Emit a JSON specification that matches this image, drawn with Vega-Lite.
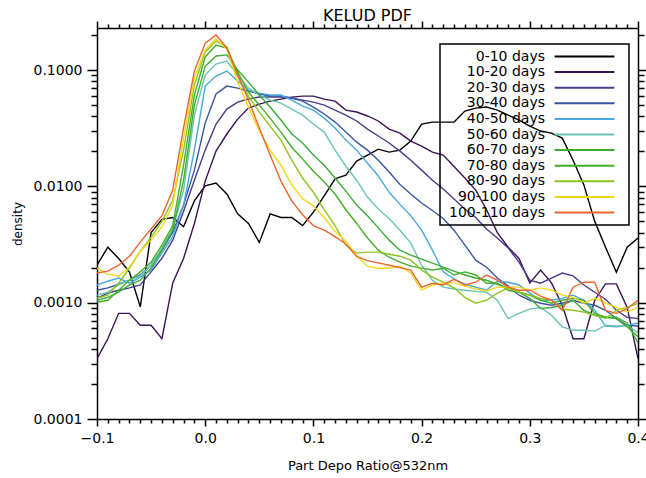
{
"$schema":"https://vega.github.io/schema/vega-lite/v6.json",
"width":541,"height":391,
"autosize":{"type":"none"},
"padding":{"left":97,"top":28,"right":8,"bottom":59},
"background":"white",
"config":{"view":{"stroke":null},"font":"DejaVu Sans",
"axis":{"grid":false,"domainColor":"#000","domainWidth":1.5,"tickColor":"#000","tickWidth":1.5,"labelColor":"#000","labelFont":"DejaVu Sans","labelFontSize":14,"titleFont":"DejaVu Sans","titleFontSize":13,"titleFontWeight":"normal","titleColor":"#000","labelFlush":false,"labelOverlap":false}},
"title":{"text":"KELUD PDF","font":"DejaVu Sans","fontSize":16,"fontWeight":"normal","color":"#000","anchor":"middle","baseline":"alphabetic","offset":0,"dy":17},
"data":{"values":[
{"p":"0-10 days","x":-0.1,"y":0.0021},{"p":"0-10 days","x":-0.09,"y":0.0030},{"p":"0-10 days","x":-0.08,"y":0.0024},{"p":"0-10 days","x":-0.07,"y":0.00183},{"p":"0-10 days","x":-0.06,"y":0.00092},{"p":"0-10 days","x":-0.05,"y":0.0040},{"p":"0-10 days","x":-0.04,"y":0.0052},{"p":"0-10 days","x":-0.03,"y":0.0054},{"p":"0-10 days","x":-0.02,"y":0.0045},{"p":"0-10 days","x":-0.01,"y":0.0075},{"p":"0-10 days","x":0,"y":0.0101},{"p":"0-10 days","x":0.01,"y":0.0107},{"p":"0-10 days","x":0.02,"y":0.0086},{"p":"0-10 days","x":0.03,"y":0.0058},{"p":"0-10 days","x":0.04,"y":0.0048},{"p":"0-10 days","x":0.05,"y":0.0033},{"p":"0-10 days","x":0.06,"y":0.0058},{"p":"0-10 days","x":0.07,"y":0.0054},{"p":"0-10 days","x":0.08,"y":0.0054},{"p":"0-10 days","x":0.09,"y":0.0046},{"p":"0-10 days","x":0.1,"y":0.0060},{"p":"0-10 days","x":0.11,"y":0.0083},{"p":"0-10 days","x":0.12,"y":0.0116},{"p":"0-10 days","x":0.13,"y":0.0125},{"p":"0-10 days","x":0.14,"y":0.0165},{"p":"0-10 days","x":0.15,"y":0.0186},{"p":"0-10 days","x":0.16,"y":0.0209},{"p":"0-10 days","x":0.17,"y":0.0197},{"p":"0-10 days","x":0.18,"y":0.0205},{"p":"0-10 days","x":0.19,"y":0.0245},{"p":"0-10 days","x":0.2,"y":0.0343},{"p":"0-10 days","x":0.21,"y":0.0357},{"p":"0-10 days","x":0.22,"y":0.0357},{"p":"0-10 days","x":0.23,"y":0.0357},{"p":"0-10 days","x":0.24,"y":0.0444},{"p":"0-10 days","x":0.25,"y":0.0471},{"p":"0-10 days","x":0.26,"y":0.0481},{"p":"0-10 days","x":0.27,"y":0.0453},{"p":"0-10 days","x":0.28,"y":0.0410},{"p":"0-10 days","x":0.29,"y":0.0372},{"p":"0-10 days","x":0.3,"y":0.0330},{"p":"0-10 days","x":0.31,"y":0.0299},{"p":"0-10 days","x":0.32,"y":0.0287},{"p":"0-10 days","x":0.33,"y":0.0260},{"p":"0-10 days","x":0.34,"y":0.0168},{"p":"0-10 days","x":0.35,"y":0.0103},{"p":"0-10 days","x":0.36,"y":0.0050},{"p":"0-10 days","x":0.37,"y":0.0030},{"p":"0-10 days","x":0.38,"y":0.00183},{"p":"0-10 days","x":0.39,"y":0.0030},{"p":"0-10 days","x":0.4,"y":0.0036},
{"p":"10-20 days","x":-0.1,"y":0.00033},{"p":"10-20 days","x":-0.09,"y":0.00049},{"p":"10-20 days","x":-0.08,"y":0.00081},{"p":"10-20 days","x":-0.07,"y":0.00081},{"p":"10-20 days","x":-0.06,"y":0.00064},{"p":"10-20 days","x":-0.05,"y":0.00064},{"p":"10-20 days","x":-0.04,"y":0.00049},{"p":"10-20 days","x":-0.03,"y":0.00148},{"p":"10-20 days","x":-0.02,"y":0.0024},{"p":"10-20 days","x":-0.01,"y":0.0048},{"p":"10-20 days","x":0,"y":0.0111},{"p":"10-20 days","x":0.01,"y":0.0201},{"p":"10-20 days","x":0.02,"y":0.0282},{"p":"10-20 days","x":0.03,"y":0.0379},{"p":"10-20 days","x":0.04,"y":0.0471},{"p":"10-20 days","x":0.05,"y":0.0510},{"p":"10-20 days","x":0.06,"y":0.0541},{"p":"10-20 days","x":0.07,"y":0.0563},{"p":"10-20 days","x":0.08,"y":0.0585},{"p":"10-20 days","x":0.09,"y":0.0597},{"p":"10-20 days","x":0.1,"y":0.0597},{"p":"10-20 days","x":0.11,"y":0.0563},{"p":"10-20 days","x":0.12,"y":0.0541},{"p":"10-20 days","x":0.13,"y":0.0453},{"p":"10-20 days","x":0.14,"y":0.0436},{"p":"10-20 days","x":0.15,"y":0.0403},{"p":"10-20 days","x":0.16,"y":0.0365},{"p":"10-20 days","x":0.17,"y":0.0311},{"p":"10-20 days","x":0.18,"y":0.0287},{"p":"10-20 days","x":0.19,"y":0.0245},{"p":"10-20 days","x":0.2,"y":0.0222},{"p":"10-20 days","x":0.21,"y":0.0197},{"p":"10-20 days","x":0.22,"y":0.0186},{"p":"10-20 days","x":0.23,"y":0.0148},{"p":"10-20 days","x":0.24,"y":0.0118},{"p":"10-20 days","x":0.25,"y":0.0093},{"p":"10-20 days","x":0.26,"y":0.0063},{"p":"10-20 days","x":0.27,"y":0.0040},{"p":"10-20 days","x":0.28,"y":0.0030},{"p":"10-20 days","x":0.29,"y":0.0024},{"p":"10-20 days","x":0.3,"y":0.00148},{"p":"10-20 days","x":0.31,"y":0.00191},{"p":"10-20 days","x":0.32,"y":0.00148},{"p":"10-20 days","x":0.33,"y":0.00095},{"p":"10-20 days","x":0.34,"y":0.00049},{"p":"10-20 days","x":0.35,"y":0.00049},{"p":"10-20 days","x":0.36,"y":0.00105},{"p":"10-20 days","x":0.37,"y":0.00145},{"p":"10-20 days","x":0.38,"y":0.00145},{"p":"10-20 days","x":0.39,"y":0.00091},{"p":"10-20 days","x":0.4,"y":0.00033},
{"p":"20-30 days","x":-0.1,"y":0.00109},{"p":"20-30 days","x":-0.09,"y":0.00121},{"p":"20-30 days","x":-0.08,"y":0.00128},{"p":"20-30 days","x":-0.07,"y":0.00134},{"p":"20-30 days","x":-0.06,"y":0.00142},{"p":"20-30 days","x":-0.05,"y":0.00184},{"p":"20-30 days","x":-0.04,"y":0.00241},{"p":"20-30 days","x":-0.03,"y":0.00345},{"p":"20-30 days","x":-0.02,"y":0.0061},{"p":"20-30 days","x":-0.01,"y":0.0113},{"p":"20-30 days","x":0,"y":0.0205},{"p":"20-30 days","x":0.01,"y":0.0344},{"p":"20-30 days","x":0.02,"y":0.0462},{"p":"20-30 days","x":0.03,"y":0.0530},{"p":"20-30 days","x":0.04,"y":0.0564},{"p":"20-30 days","x":0.05,"y":0.0586},{"p":"20-30 days","x":0.06,"y":0.0586},{"p":"20-30 days","x":0.07,"y":0.0586},{"p":"20-30 days","x":0.08,"y":0.0575},{"p":"20-30 days","x":0.09,"y":0.0552},{"p":"20-30 days","x":0.1,"y":0.0530},{"p":"20-30 days","x":0.11,"y":0.0500},{"p":"20-30 days","x":0.12,"y":0.0453},{"p":"20-30 days","x":0.13,"y":0.0410},{"p":"20-30 days","x":0.14,"y":0.0365},{"p":"20-30 days","x":0.15,"y":0.0311},{"p":"20-30 days","x":0.16,"y":0.0271},{"p":"20-30 days","x":0.17,"y":0.0236},{"p":"20-30 days","x":0.18,"y":0.0201},{"p":"20-30 days","x":0.19,"y":0.0168},{"p":"20-30 days","x":0.2,"y":0.0138},{"p":"20-30 days","x":0.21,"y":0.0113},{"p":"20-30 days","x":0.22,"y":0.0095},{"p":"20-30 days","x":0.23,"y":0.0078},{"p":"20-30 days","x":0.24,"y":0.0064},{"p":"20-30 days","x":0.25,"y":0.0054},{"p":"20-30 days","x":0.26,"y":0.0043},{"p":"20-30 days","x":0.27,"y":0.0036},{"p":"20-30 days","x":0.28,"y":0.00295},{"p":"20-30 days","x":0.29,"y":0.00223},{"p":"20-30 days","x":0.3,"y":0.00156},{"p":"20-30 days","x":0.31,"y":0.00147},{"p":"20-30 days","x":0.32,"y":0.00163},{"p":"20-30 days","x":0.33,"y":0.0018},{"p":"20-30 days","x":0.34,"y":0.0017},{"p":"20-30 days","x":0.35,"y":0.00142},{"p":"20-30 days","x":0.36,"y":0.00123},{"p":"20-30 days","x":0.37,"y":0.00107},{"p":"20-30 days","x":0.38,"y":0.00086},{"p":"20-30 days","x":0.39,"y":0.00075},{"p":"20-30 days","x":0.4,"y":0.00073},
{"p":"30-40 days","x":-0.1,"y":0.00128},{"p":"30-40 days","x":-0.09,"y":0.00134},{"p":"30-40 days","x":-0.08,"y":0.00144},{"p":"30-40 days","x":-0.07,"y":0.00156},{"p":"30-40 days","x":-0.06,"y":0.00173},{"p":"30-40 days","x":-0.05,"y":0.0021},{"p":"30-40 days","x":-0.04,"y":0.00283},{"p":"30-40 days","x":-0.03,"y":0.00404},{"p":"30-40 days","x":-0.02,"y":0.0069},{"p":"30-40 days","x":-0.01,"y":0.0138},{"p":"30-40 days","x":0,"y":0.035},{"p":"30-40 days","x":0.01,"y":0.0622},{"p":"30-40 days","x":0.02,"y":0.0728},{"p":"30-40 days","x":0.03,"y":0.070},{"p":"30-40 days","x":0.04,"y":0.066},{"p":"30-40 days","x":0.05,"y":0.0622},{"p":"30-40 days","x":0.06,"y":0.0598},{"p":"30-40 days","x":0.07,"y":0.0598},{"p":"30-40 days","x":0.08,"y":0.0575},{"p":"30-40 days","x":0.09,"y":0.0541},{"p":"30-40 days","x":0.1,"y":0.0481},{"p":"30-40 days","x":0.11,"y":0.0419},{"p":"30-40 days","x":0.12,"y":0.0357},{"p":"30-40 days","x":0.13,"y":0.0293},{"p":"30-40 days","x":0.14,"y":0.024},{"p":"30-40 days","x":0.15,"y":0.0205},{"p":"30-40 days","x":0.16,"y":0.0168},{"p":"30-40 days","x":0.17,"y":0.0133},{"p":"30-40 days","x":0.18,"y":0.0104},{"p":"30-40 days","x":0.19,"y":0.0086},{"p":"30-40 days","x":0.2,"y":0.0072},{"p":"30-40 days","x":0.21,"y":0.0062},{"p":"30-40 days","x":0.22,"y":0.0053},{"p":"30-40 days","x":0.23,"y":0.0042},{"p":"30-40 days","x":0.24,"y":0.00313},{"p":"30-40 days","x":0.25,"y":0.00232},{"p":"30-40 days","x":0.26,"y":0.00202},{"p":"30-40 days","x":0.27,"y":0.00163},{"p":"30-40 days","x":0.28,"y":0.00139},{"p":"30-40 days","x":0.29,"y":0.00116},{"p":"30-40 days","x":0.3,"y":0.00105},{"p":"30-40 days","x":0.31,"y":0.00099},{"p":"30-40 days","x":0.32,"y":0.00095},{"p":"30-40 days","x":0.33,"y":0.00099},{"p":"30-40 days","x":0.34,"y":0.00105},{"p":"30-40 days","x":0.35,"y":0.00099},{"p":"30-40 days","x":0.36,"y":0.00095},{"p":"30-40 days","x":0.37,"y":0.00086},{"p":"30-40 days","x":0.38,"y":0.00073},{"p":"30-40 days","x":0.39,"y":0.00064},{"p":"30-40 days","x":0.4,"y":0.00063},
{"p":"40-50 days","x":-0.1,"y":0.00142},{"p":"40-50 days","x":-0.09,"y":0.00153},{"p":"40-50 days","x":-0.08,"y":0.00163},{"p":"40-50 days","x":-0.07,"y":0.00147},{"p":"40-50 days","x":-0.06,"y":0.00166},{"p":"40-50 days","x":-0.05,"y":0.00191},{"p":"40-50 days","x":-0.04,"y":0.00267},{"p":"40-50 days","x":-0.03,"y":0.00372},{"p":"40-50 days","x":-0.02,"y":0.0069},{"p":"40-50 days","x":-0.01,"y":0.0205},{"p":"40-50 days","x":0,"y":0.0728},{"p":"40-50 days","x":0.01,"y":0.0888},{"p":"40-50 days","x":0.02,"y":0.098},{"p":"40-50 days","x":0.03,"y":0.0804},{"p":"40-50 days","x":0.04,"y":0.0673},{"p":"40-50 days","x":0.05,"y":0.0634},{"p":"40-50 days","x":0.06,"y":0.061},{"p":"40-50 days","x":0.07,"y":0.061},{"p":"40-50 days","x":0.08,"y":0.0552},{"p":"40-50 days","x":0.09,"y":0.049},{"p":"40-50 days","x":0.1,"y":0.0453},{"p":"40-50 days","x":0.11,"y":0.0386},{"p":"40-50 days","x":0.12,"y":0.0317},{"p":"40-50 days","x":0.13,"y":0.025},{"p":"40-50 days","x":0.14,"y":0.0205},{"p":"40-50 days","x":0.15,"y":0.0158},{"p":"40-50 days","x":0.16,"y":0.0123},{"p":"40-50 days","x":0.17,"y":0.0089},{"p":"40-50 days","x":0.18,"y":0.007},{"p":"40-50 days","x":0.19,"y":0.0056},{"p":"40-50 days","x":0.2,"y":0.0042},{"p":"40-50 days","x":0.21,"y":0.00283},{"p":"40-50 days","x":0.22,"y":0.00184},{"p":"40-50 days","x":0.23,"y":0.0016},{"p":"40-50 days","x":0.24,"y":0.00144},{"p":"40-50 days","x":0.25,"y":0.00136},{"p":"40-50 days","x":0.26,"y":0.00128},{"p":"40-50 days","x":0.27,"y":0.00153},{"p":"40-50 days","x":0.28,"y":0.0015},{"p":"40-50 days","x":0.29,"y":0.00142},{"p":"40-50 days","x":0.3,"y":0.00121},{"p":"40-50 days","x":0.31,"y":0.00105},{"p":"40-50 days","x":0.32,"y":0.00105},{"p":"40-50 days","x":0.33,"y":0.00109},{"p":"40-50 days","x":0.34,"y":0.00116},{"p":"40-50 days","x":0.35,"y":0.00105},{"p":"40-50 days","x":0.36,"y":0.00086},{"p":"40-50 days","x":0.37,"y":0.00063},{"p":"40-50 days","x":0.38,"y":0.00062},{"p":"40-50 days","x":0.39,"y":0.00064},{"p":"40-50 days","x":0.4,"y":0.00067},
{"p":"50-60 days","x":-0.1,"y":0.00116},{"p":"50-60 days","x":-0.09,"y":0.00123},{"p":"50-60 days","x":-0.08,"y":0.00142},{"p":"50-60 days","x":-0.07,"y":0.00156},{"p":"50-60 days","x":-0.06,"y":0.0017},{"p":"50-60 days","x":-0.05,"y":0.0021},{"p":"50-60 days","x":-0.04,"y":0.00295},{"p":"50-60 days","x":-0.03,"y":0.00433},{"p":"50-60 days","x":-0.02,"y":0.0093},{"p":"50-60 days","x":-0.01,"y":0.041},{"p":"50-60 days","x":0,"y":0.0906},{"p":"50-60 days","x":0.01,"y":0.1127},{"p":"50-60 days","x":0.02,"y":0.1196},{"p":"50-60 days","x":0.03,"y":0.0906},{"p":"50-60 days","x":0.04,"y":0.07},{"p":"50-60 days","x":0.05,"y":0.061},{"p":"50-60 days","x":0.06,"y":0.0552},{"p":"50-60 days","x":0.07,"y":0.052},{"p":"50-60 days","x":0.08,"y":0.0462},{"p":"50-60 days","x":0.09,"y":0.041},{"p":"50-60 days","x":0.1,"y":0.0344},{"p":"50-60 days","x":0.11,"y":0.0293},{"p":"50-60 days","x":0.12,"y":0.0205},{"p":"50-60 days","x":0.13,"y":0.0149},{"p":"50-60 days","x":0.14,"y":0.0113},{"p":"50-60 days","x":0.15,"y":0.0081},{"p":"50-60 days","x":0.16,"y":0.0064},{"p":"50-60 days","x":0.17,"y":0.0053},{"p":"50-60 days","x":0.18,"y":0.0042},{"p":"50-60 days","x":0.19,"y":0.00325},{"p":"50-60 days","x":0.2,"y":0.0021},{"p":"50-60 days","x":0.21,"y":0.00156},{"p":"50-60 days","x":0.22,"y":0.00136},{"p":"50-60 days","x":0.23,"y":0.00131},{"p":"50-60 days","x":0.24,"y":0.00128},{"p":"50-60 days","x":0.25,"y":0.00125},{"p":"50-60 days","x":0.26,"y":0.00123},{"p":"50-60 days","x":0.27,"y":0.00105},{"p":"50-60 days","x":0.28,"y":0.00073},{"p":"50-60 days","x":0.29,"y":0.00081},{"p":"50-60 days","x":0.3,"y":0.00088},{"p":"50-60 days","x":0.31,"y":0.00091},{"p":"50-60 days","x":0.32,"y":0.00078},{"p":"50-60 days","x":0.33,"y":0.00062},{"p":"50-60 days","x":0.34,"y":0.00058},{"p":"50-60 days","x":0.35,"y":0.00058},{"p":"50-60 days","x":0.36,"y":0.00057},{"p":"50-60 days","x":0.37,"y":0.00064},{"p":"50-60 days","x":0.38,"y":0.00063},{"p":"50-60 days","x":0.39,"y":0.00064},{"p":"50-60 days","x":0.4,"y":0.00055},
{"p":"60-70 days","x":-0.1,"y":0.00105},{"p":"60-70 days","x":-0.09,"y":0.00111},{"p":"60-70 days","x":-0.08,"y":0.00123},{"p":"60-70 days","x":-0.07,"y":0.00142},{"p":"60-70 days","x":-0.06,"y":0.00156},{"p":"60-70 days","x":-0.05,"y":0.00198},{"p":"60-70 days","x":-0.04,"y":0.00283},{"p":"60-70 days","x":-0.03,"y":0.0042},{"p":"60-70 days","x":-0.02,"y":0.0113},{"p":"60-70 days","x":-0.01,"y":0.05},{"p":"60-70 days","x":0,"y":0.1078},{"p":"60-70 days","x":0.01,"y":0.1323},{"p":"60-70 days","x":0.02,"y":0.135},{"p":"60-70 days","x":0.03,"y":0.1},{"p":"60-70 days","x":0.04,"y":0.0788},{"p":"60-70 days","x":0.05,"y":0.061},{"p":"60-70 days","x":0.06,"y":0.0481},{"p":"60-70 days","x":0.07,"y":0.0372},{"p":"60-70 days","x":0.08,"y":0.0282},{"p":"60-70 days","x":0.09,"y":0.0236},{"p":"60-70 days","x":0.1,"y":0.0186},{"p":"60-70 days","x":0.11,"y":0.0152},{"p":"60-70 days","x":0.12,"y":0.0118},{"p":"60-70 days","x":0.13,"y":0.0091},{"p":"60-70 days","x":0.14,"y":0.0069},{"p":"60-70 days","x":0.15,"y":0.0056},{"p":"60-70 days","x":0.16,"y":0.0044},{"p":"60-70 days","x":0.17,"y":0.00345},{"p":"60-70 days","x":0.18,"y":0.00283},{"p":"60-70 days","x":0.19,"y":0.00256},{"p":"60-70 days","x":0.2,"y":0.00237},{"p":"60-70 days","x":0.21,"y":0.00219},{"p":"60-70 days","x":0.22,"y":0.00202},{"p":"60-70 days","x":0.23,"y":0.00187},{"p":"60-70 days","x":0.24,"y":0.00173},{"p":"60-70 days","x":0.25,"y":0.00163},{"p":"60-70 days","x":0.26,"y":0.00156},{"p":"60-70 days","x":0.27,"y":0.00144},{"p":"60-70 days","x":0.28,"y":0.00134},{"p":"60-70 days","x":0.29,"y":0.00123},{"p":"60-70 days","x":0.3,"y":0.00109},{"p":"60-70 days","x":0.31,"y":0.00089},{"p":"60-70 days","x":0.32,"y":0.00091},{"p":"60-70 days","x":0.33,"y":0.00095},{"p":"60-70 days","x":0.34,"y":0.00105},{"p":"60-70 days","x":0.35,"y":0.00086},{"p":"60-70 days","x":0.36,"y":0.00078},{"p":"60-70 days","x":0.37,"y":0.00075},{"p":"60-70 days","x":0.38,"y":0.00073},{"p":"60-70 days","x":0.39,"y":0.00062},{"p":"60-70 days","x":0.4,"y":0.00051},
{"p":"70-80 days","x":-0.1,"y":0.00101},{"p":"70-80 days","x":-0.09,"y":0.00105},{"p":"70-80 days","x":-0.08,"y":0.00128},{"p":"70-80 days","x":-0.07,"y":0.00156},{"p":"70-80 days","x":-0.06,"y":0.00184},{"p":"70-80 days","x":-0.05,"y":0.00223},{"p":"70-80 days","x":-0.04,"y":0.00313},{"p":"70-80 days","x":-0.03,"y":0.0046},{"p":"70-80 days","x":-0.02,"y":0.0152},{"p":"70-80 days","x":-0.01,"y":0.061},{"p":"70-80 days","x":0,"y":0.1297},{"p":"70-80 days","x":0.01,"y":0.164},{"p":"70-80 days","x":0.02,"y":0.1545},{"p":"70-80 days","x":0.03,"y":0.0961},{"p":"70-80 days","x":0.04,"y":0.0647},{"p":"70-80 days","x":0.05,"y":0.05},{"p":"70-80 days","x":0.06,"y":0.0386},{"p":"70-80 days","x":0.07,"y":0.0293},{"p":"70-80 days","x":0.08,"y":0.0217},{"p":"70-80 days","x":0.09,"y":0.0172},{"p":"70-80 days","x":0.1,"y":0.0135},{"p":"70-80 days","x":0.11,"y":0.0109},{"p":"70-80 days","x":0.12,"y":0.0086},{"p":"70-80 days","x":0.13,"y":0.0063},{"p":"70-80 days","x":0.14,"y":0.0048},{"p":"70-80 days","x":0.15,"y":0.0036},{"p":"70-80 days","x":0.16,"y":0.00283},{"p":"70-80 days","x":0.17,"y":0.00246},{"p":"70-80 days","x":0.18,"y":0.00223},{"p":"70-80 days","x":0.19,"y":0.00206},{"p":"70-80 days","x":0.2,"y":0.00198},{"p":"70-80 days","x":0.21,"y":0.00191},{"p":"70-80 days","x":0.22,"y":0.00198},{"p":"70-80 days","x":0.23,"y":0.00173},{"p":"70-80 days","x":0.24,"y":0.00184},{"p":"70-80 days","x":0.25,"y":0.00173},{"p":"70-80 days","x":0.26,"y":0.00147},{"p":"70-80 days","x":0.27,"y":0.00147},{"p":"70-80 days","x":0.28,"y":0.00128},{"p":"70-80 days","x":0.29,"y":0.00123},{"p":"70-80 days","x":0.3,"y":0.00116},{"p":"70-80 days","x":0.31,"y":0.00105},{"p":"70-80 days","x":0.32,"y":0.00099},{"p":"70-80 days","x":0.33,"y":0.00105},{"p":"70-80 days","x":0.34,"y":0.00109},{"p":"70-80 days","x":0.35,"y":0.00105},{"p":"70-80 days","x":0.36,"y":0.00081},{"p":"70-80 days","x":0.37,"y":0.00075},{"p":"70-80 days","x":0.38,"y":0.00075},{"p":"70-80 days","x":0.39,"y":0.00067},{"p":"70-80 days","x":0.4,"y":0.00045},
{"p":"80-90 days","x":-0.1,"y":0.00109},{"p":"80-90 days","x":-0.09,"y":0.00116},{"p":"80-90 days","x":-0.08,"y":0.00147},{"p":"80-90 days","x":-0.07,"y":0.00198},{"p":"80-90 days","x":-0.06,"y":0.00277},{"p":"80-90 days","x":-0.05,"y":0.00365},{"p":"80-90 days","x":-0.04,"y":0.0050},{"p":"80-90 days","x":-0.03,"y":0.0076},{"p":"80-90 days","x":-0.02,"y":0.0205},{"p":"80-90 days","x":-0.01,"y":0.0743},{"p":"80-90 days","x":0,"y":0.1432},{"p":"80-90 days","x":0.01,"y":0.1774},{"p":"80-90 days","x":0.02,"y":0.1576},{"p":"80-90 days","x":0.03,"y":0.0888},{"p":"80-90 days","x":0.04,"y":0.0598},{"p":"80-90 days","x":0.05,"y":0.0435},{"p":"80-90 days","x":0.06,"y":0.033},{"p":"80-90 days","x":0.07,"y":0.025},{"p":"80-90 days","x":0.08,"y":0.0168},{"p":"80-90 days","x":0.09,"y":0.0118},{"p":"80-90 days","x":0.1,"y":0.0089},{"p":"80-90 days","x":0.11,"y":0.0063},{"p":"80-90 days","x":0.12,"y":0.0046},{"p":"80-90 days","x":0.13,"y":0.00313},{"p":"80-90 days","x":0.14,"y":0.00267},{"p":"80-90 days","x":0.15,"y":0.00272},{"p":"80-90 days","x":0.16,"y":0.00272},{"p":"80-90 days","x":0.17,"y":0.00261},{"p":"80-90 days","x":0.18,"y":0.00251},{"p":"80-90 days","x":0.19,"y":0.00232},{"p":"80-90 days","x":0.2,"y":0.00191},{"p":"80-90 days","x":0.21,"y":0.00166},{"p":"80-90 days","x":0.22,"y":0.0015},{"p":"80-90 days","x":0.23,"y":0.00134},{"p":"80-90 days","x":0.24,"y":0.00111},{"p":"80-90 days","x":0.25,"y":0.00099},{"p":"80-90 days","x":0.26,"y":0.00105},{"p":"80-90 days","x":0.27,"y":0.00121},{"p":"80-90 days","x":0.28,"y":0.00134},{"p":"80-90 days","x":0.29,"y":0.00123},{"p":"80-90 days","x":0.3,"y":0.00116},{"p":"80-90 days","x":0.31,"y":0.00109},{"p":"80-90 days","x":0.32,"y":0.00105},{"p":"80-90 days","x":0.33,"y":0.00088},{"p":"80-90 days","x":0.34,"y":0.00086},{"p":"80-90 days","x":0.35,"y":0.00083},{"p":"80-90 days","x":0.36,"y":0.00078},{"p":"80-90 days","x":0.37,"y":0.00073},{"p":"80-90 days","x":0.38,"y":0.00086},{"p":"80-90 days","x":0.39,"y":0.00091},{"p":"80-90 days","x":0.4,"y":0.00099},
{"p":"90-100 days","x":-0.1,"y":0.00198},{"p":"90-100 days","x":-0.09,"y":0.00176},{"p":"90-100 days","x":-0.08,"y":0.00169},{"p":"90-100 days","x":-0.07,"y":0.00203},{"p":"90-100 days","x":-0.06,"y":0.00278},{"p":"90-100 days","x":-0.05,"y":0.00345},{"p":"90-100 days","x":-0.04,"y":0.0045},{"p":"90-100 days","x":-0.03,"y":0.0069},{"p":"90-100 days","x":-0.02,"y":0.026},{"p":"90-100 days","x":-0.01,"y":0.0853},{"p":"90-100 days","x":0,"y":0.149},{"p":"90-100 days","x":0.01,"y":0.185},{"p":"90-100 days","x":0.02,"y":0.152},{"p":"90-100 days","x":0.03,"y":0.0789},{"p":"90-100 days","x":0.04,"y":0.0481},{"p":"90-100 days","x":0.05,"y":0.0299},{"p":"90-100 days","x":0.06,"y":0.0205},{"p":"90-100 days","x":0.07,"y":0.0152},{"p":"90-100 days","x":0.08,"y":0.0103},{"p":"90-100 days","x":0.09,"y":0.0078},{"p":"90-100 days","x":0.1,"y":0.0068},{"p":"90-100 days","x":0.11,"y":0.0054},{"p":"90-100 days","x":0.12,"y":0.0041},{"p":"90-100 days","x":0.13,"y":0.00338},{"p":"90-100 days","x":0.14,"y":0.00251},{"p":"90-100 days","x":0.15,"y":0.00206},{"p":"90-100 days","x":0.16,"y":0.00198},{"p":"90-100 days","x":0.17,"y":0.00198},{"p":"90-100 days","x":0.18,"y":0.00206},{"p":"90-100 days","x":0.19,"y":0.0018},{"p":"90-100 days","x":0.2,"y":0.00128},{"p":"90-100 days","x":0.21,"y":0.00142},{"p":"90-100 days","x":0.22,"y":0.00148},{"p":"90-100 days","x":0.23,"y":0.00148},{"p":"90-100 days","x":0.24,"y":0.00139},{"p":"90-100 days","x":0.25,"y":0.00131},{"p":"90-100 days","x":0.26,"y":0.00126},{"p":"90-100 days","x":0.27,"y":0.00136},{"p":"90-100 days","x":0.28,"y":0.00136},{"p":"90-100 days","x":0.29,"y":0.00136},{"p":"90-100 days","x":0.3,"y":0.00128},{"p":"90-100 days","x":0.31,"y":0.00134},{"p":"90-100 days","x":0.32,"y":0.00128},{"p":"90-100 days","x":0.33,"y":0.00116},{"p":"90-100 days","x":0.34,"y":0.00111},{"p":"90-100 days","x":0.35,"y":0.00099},{"p":"90-100 days","x":0.36,"y":0.00109},{"p":"90-100 days","x":0.37,"y":0.00099},{"p":"90-100 days","x":0.38,"y":0.00091},{"p":"90-100 days","x":0.39,"y":0.00083},{"p":"90-100 days","x":0.4,"y":0.00091},
{"p":"100-110 days","x":-0.1,"y":0.0018},{"p":"100-110 days","x":-0.09,"y":0.00187},{"p":"100-110 days","x":-0.08,"y":0.0021},{"p":"100-110 days","x":-0.07,"y":0.00251},{"p":"100-110 days","x":-0.06,"y":0.00332},{"p":"100-110 days","x":-0.05,"y":0.0043},{"p":"100-110 days","x":-0.04,"y":0.0056},{"p":"100-110 days","x":-0.03,"y":0.0093},{"p":"100-110 days","x":-0.02,"y":0.0318},{"p":"100-110 days","x":-0.01,"y":0.098},{"p":"100-110 days","x":0,"y":0.17},{"p":"100-110 days","x":0.01,"y":0.2},{"p":"100-110 days","x":0.02,"y":0.155},{"p":"100-110 days","x":0.03,"y":0.0906},{"p":"100-110 days","x":0.04,"y":0.0552},{"p":"100-110 days","x":0.05,"y":0.0318},{"p":"100-110 days","x":0.06,"y":0.0186},{"p":"100-110 days","x":0.07,"y":0.0111},{"p":"100-110 days","x":0.08,"y":0.0075},{"p":"100-110 days","x":0.09,"y":0.0057},{"p":"100-110 days","x":0.1,"y":0.0046},{"p":"100-110 days","x":0.11,"y":0.0042},{"p":"100-110 days","x":0.12,"y":0.0037},{"p":"100-110 days","x":0.13,"y":0.0032},{"p":"100-110 days","x":0.14,"y":0.0025},{"p":"100-110 days","x":0.15,"y":0.0023},{"p":"100-110 days","x":0.16,"y":0.0022},{"p":"100-110 days","x":0.17,"y":0.0021},{"p":"100-110 days","x":0.18,"y":0.0020},{"p":"100-110 days","x":0.19,"y":0.00191},{"p":"100-110 days","x":0.2,"y":0.00136},{"p":"100-110 days","x":0.21,"y":0.00147},{"p":"100-110 days","x":0.22,"y":0.00142},{"p":"100-110 days","x":0.23,"y":0.00159},{"p":"100-110 days","x":0.24,"y":0.00142},{"p":"100-110 days","x":0.25,"y":0.0015},{"p":"100-110 days","x":0.26,"y":0.00173},{"p":"100-110 days","x":0.27,"y":0.00156},{"p":"100-110 days","x":0.28,"y":0.00136},{"p":"100-110 days","x":0.29,"y":0.00128},{"p":"100-110 days","x":0.3,"y":0.00128},{"p":"100-110 days","x":0.31,"y":0.00114},{"p":"100-110 days","x":0.32,"y":0.00105},{"p":"100-110 days","x":0.33,"y":0.00086},{"p":"100-110 days","x":0.34,"y":0.00136},{"p":"100-110 days","x":0.35,"y":0.0015},{"p":"100-110 days","x":0.36,"y":0.0015},{"p":"100-110 days","x":0.37,"y":0.00086},{"p":"100-110 days","x":0.38,"y":0.00081},{"p":"100-110 days","x":0.39,"y":0.00089},{"p":"100-110 days","x":0.4,"y":0.00105}
]},
"layer":[
{"mark":{"type":"line","strokeWidth":1.4,"clip":true},
 "encoding":{
  "x":{"field":"x","type":"quantitative","scale":{"domain":[-0.1,0.4],"nice":false,"zero":false},
       "axis":{"orient":"bottom","values":[-0.1,0,0.1,0.2,0.3,0.4],"format":".1f","tickSize":7,"labelPadding":5,"title":"Part Depo Ratio@532nm","titlePadding":14}},
  "y":{"field":"y","type":"quantitative","scale":{"type":"log","domain":[0.0001,0.23],"nice":false},
       "axis":{"orient":"left","values":[0.0001,0.001,0.01,0.1],"format":".4f","tickSize":10,"labelPadding":5,"title":"density","titleFontSize":12,"titlePadding":9}},
  "color":{"field":"p","type":"nominal",
   "scale":{"domain":["0-10 days","10-20 days","20-30 days","30-40 days","40-50 days","50-60 days","60-70 days","70-80 days","80-90 days","90-100 days","100-110 days"],
            "range":["#000000","#3b1355","#483d8b","#3a55a0","#4aa8dd","#6cc4b4","#3aac37","#43b02a","#8dc41e","#f3d81a","#ea6630"]},
   "legend":{"title":null,"orient":"none","legendX":343,"legendY":16,
     "symbolType":"M-4.6,0H5.37","symbolSize":169,"symbolStrokeWidth":2,"symbolDash":[59.8,40],
     "labelFont":"DejaVu Sans","labelFontSize":14,"labelColor":"#000","labelLimit":300,
     "rowPadding":0.6,"padding":5,"strokeColor":"#000",
     "encode":{"labels":{"update":{"x":{"value":100},"align":{"value":"right"}}},
               "symbols":{"update":{"x":{"value":139.5}}},
               "legend":{"update":{"strokeWidth":{"value":1.5}}}}}}
 }},
{"mark":{"type":"line","opacity":0},
 "encoding":{
  "x":{"field":"x","type":"quantitative","scale":{"domain":[-0.1,0.4],"nice":false,"zero":false},
       "axis":{"orient":"bottom","values":[-0.09,-0.08,-0.07,-0.06,-0.05,-0.04,-0.03,-0.02,-0.01,0.01,0.02,0.03,0.04,0.05,0.06,0.07,0.08,0.09,0.11,0.12,0.13,0.14,0.15,0.16,0.17,0.18,0.19,0.21,0.22,0.23,0.24,0.25,0.26,0.27,0.28,0.29,0.31,0.32,0.33,0.34,0.35,0.36,0.37,0.38,0.39],"labels":false,"domain":false,"tickSize":4,"title":null}},
  "y":{"field":"y","type":"quantitative","scale":{"type":"log","domain":[0.0001,0.23],"nice":false},
       "axis":{"orient":"left","values":[0.0002,0.0003,0.0004,0.0005,0.0006,0.0007,0.0008,0.0009,0.002,0.003,0.004,0.005,0.006,0.007,0.008,0.009,0.02,0.03,0.04,0.05,0.06,0.07,0.08,0.09,0.2],"labels":false,"domain":false,"tickSize":6,"title":null}},
  "detail":{"field":"p"}
 }},
{"mark":{"type":"line","opacity":0},
 "encoding":{
  "x":{"field":"x","type":"quantitative","scale":{"domain":[-0.1,0.4],"nice":false,"zero":false},
       "axis":{"orient":"top","values":[-0.1,0,0.1,0.2,0.3,0.4],"labels":false,"tickSize":7,"title":null}},
  "y":{"field":"y","type":"quantitative","scale":{"type":"log","domain":[0.0001,0.23],"nice":false},
       "axis":{"orient":"right","values":[0.0001,0.001,0.01,0.1],"labels":false,"tickSize":10,"title":null}},
  "detail":{"field":"p"}
 }},
{"mark":{"type":"line","opacity":0},
 "encoding":{
  "x":{"field":"x","type":"quantitative","scale":{"domain":[-0.1,0.4],"nice":false,"zero":false},
       "axis":{"orient":"top","values":[-0.09,-0.08,-0.07,-0.06,-0.05,-0.04,-0.03,-0.02,-0.01,0.01,0.02,0.03,0.04,0.05,0.06,0.07,0.08,0.09,0.11,0.12,0.13,0.14,0.15,0.16,0.17,0.18,0.19,0.21,0.22,0.23,0.24,0.25,0.26,0.27,0.28,0.29,0.31,0.32,0.33,0.34,0.35,0.36,0.37,0.38,0.39],"labels":false,"domain":false,"tickSize":4,"title":null}},
  "y":{"field":"y","type":"quantitative","scale":{"type":"log","domain":[0.0001,0.23],"nice":false},
       "axis":{"orient":"right","values":[0.0002,0.0003,0.0004,0.0005,0.0006,0.0007,0.0008,0.0009,0.002,0.003,0.004,0.005,0.006,0.007,0.008,0.009,0.02,0.03,0.04,0.05,0.06,0.07,0.08,0.09,0.2],"labels":false,"domain":false,"tickSize":6,"title":null}},
  "detail":{"field":"p"}
 }}
],
"resolve":{"axis":{"x":"independent","y":"independent"}}
}
